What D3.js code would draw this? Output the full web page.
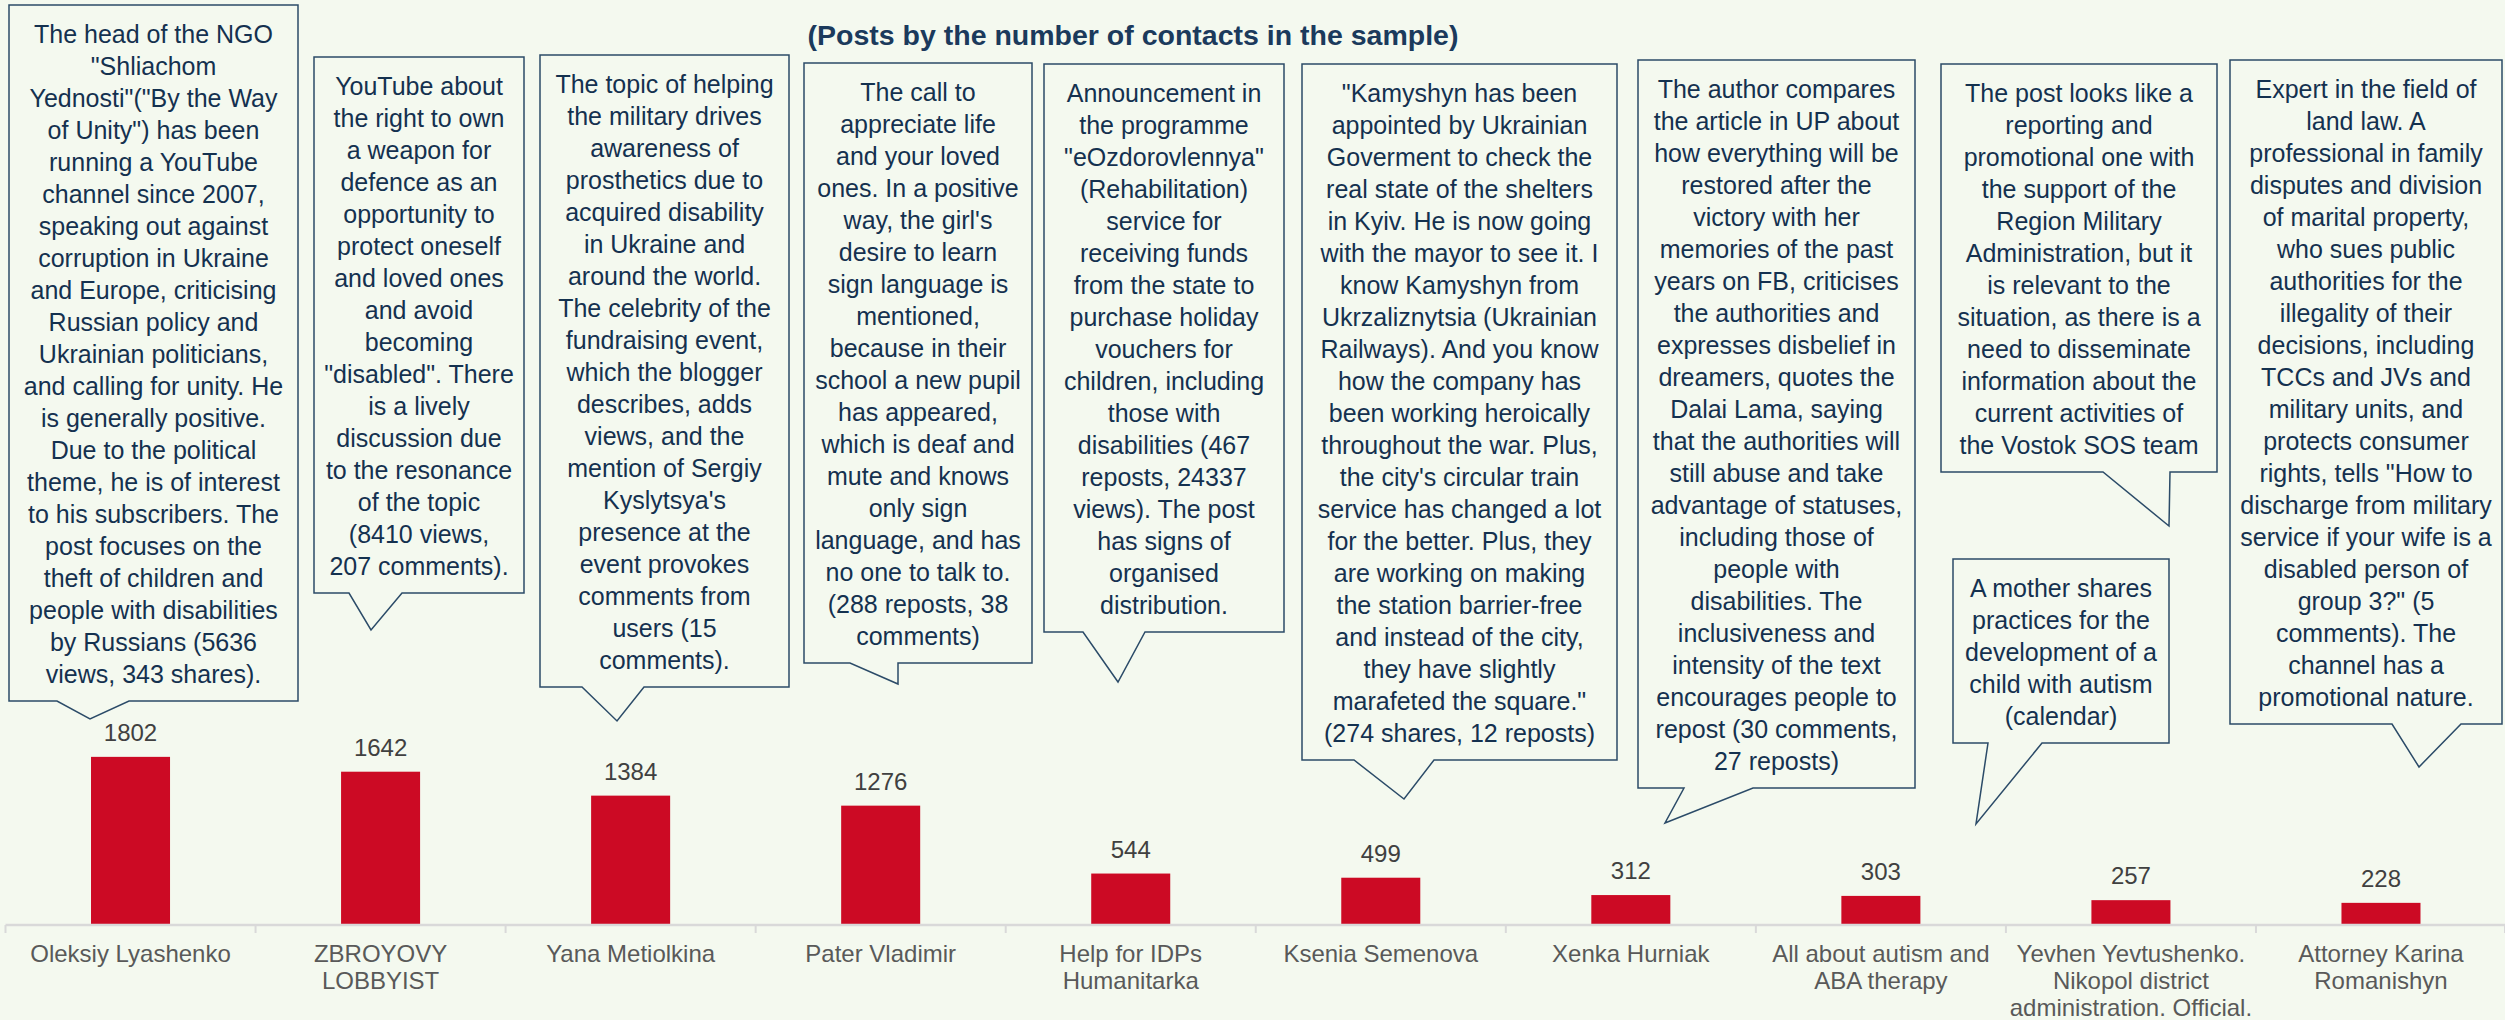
<!DOCTYPE html>
<html>
<head>
<meta charset="utf-8">
<script src="https://cdn.jsdelivr.net/npm/d3@7"></script>
<style>
  html, body { margin: 0; padding: 0; background: #f4f9ef; }
  svg { display: block; }
</style>
</head>
<body>
<div id="chart"></div>
<script>
// categories (x axis), one label line per array item
var categories = [
    ["Oleksiy Lyashenko"],
    ["ZBROYOVY", "LOBBYIST"],
    ["Yana Metiolkina"],
    ["Pater Vladimir"],
    ["Help for IDPs", "Humanitarka"],
    ["Ksenia Semenova"],
    ["Xenka Hurniak"],
    ["All about autism and", "ABA therapy"],
    ["Yevhen Yevtushenko.", "Nikopol district", "administration. Official."],
    ["Attorney Karina", "Romanishyn"]
];
var contacts = [1802, 1642, 1384, 1276, 544, 499, 312, 303, 257, 228];

var title = "(Posts by the number of contacts in the sample)";

// callout texts, already broken into the lines of the original
var notes = [
    ["The head of the NGO", "\"Shliachom", "Yednosti\"(\"By the Way", "of Unity\") has been", "running a YouTube", "channel since 2007,", "speaking out against", "corruption in Ukraine", "and Europe, criticising", "Russian policy and", "Ukrainian politicians,", "and calling for unity. He", "is generally positive.", "Due to the political", "theme, he is of interest", "to his subscribers. The", "post focuses on the", "theft of children and", "people with disabilities", "by Russians (5636", "views, 343 shares)."],
    ["YouTube about", "the right to own", "a weapon for", "defence as an", "opportunity to", "protect oneself", "and loved ones", "and avoid", "becoming", "\"disabled\". There", "is a lively", "discussion due", "to the resonance", "of the topic", "(8410 views,", "207 comments)."],
    ["The topic of helping", "the military drives", "awareness of", "prosthetics due to", "acquired disability", "in Ukraine and", "around the world.", "The celebrity of the", "fundraising event,", "which the blogger", "describes, adds", "views, and the", "mention of Sergiy", "Kyslytsya's", "presence at the", "event provokes", "comments from", "users (15", "comments)."],
    ["The call to", "appreciate life", "and your loved", "ones. In a positive", "way, the girl's", "desire to learn", "sign language is", "mentioned,", "because in their", "school a new pupil", "has appeared,", "which is deaf and", "mute and knows", "only sign", "language, and has", "no one to talk to.", "(288 reposts, 38", "comments)"],
    ["Announcement in", "the programme", "\"eOzdorovlennya\"", "(Rehabilitation)", "service for", "receiving funds", "from the state to", "purchase holiday", "vouchers for", "children, including", "those with", "disabilities (467", "reposts, 24337", "views). The post", "has signs of", "organised", "distribution."],
    ["\"Kamyshyn has been", "appointed by Ukrainian", "Goverment to check the", "real state of the shelters", "in Kyiv. He is now going", "with the mayor to see it. I", "know Kamyshyn from", "Ukrzaliznytsia (Ukrainian", "Railways). And you know", "how the company has", "been working heroically", "throughout the war. Plus,", "the city's circular train", "service has changed a lot", "for the better. Plus, they", "are working on making", "the station barrier-free", "and instead of the city,", "they have slightly", "marafeted the square.\"", "(274 shares, 12 reposts)"],
    ["The author compares", "the article in UP about", "how everything will be", "restored after the", "victory with her", "memories of the past", "years on FB, criticises", "the authorities and", "expresses disbelief in", "dreamers, quotes the", "Dalai Lama, saying", "that the authorities will", "still abuse and take", "advantage of statuses,", "including those of", "people with", "disabilities. The", "inclusiveness and", "intensity of the text", "encourages people to", "repost (30 comments,", "27 reposts)"],
    ["The post looks like a", "reporting and", "promotional one with", "the support of the", "Region Military", "Administration, but it", "is relevant to the", "situation, as there is a", "need to disseminate", "information about the", "current activities of", "the Vostok SOS team"],
    ["A mother shares", "practices for the", "development of a", "child with autism", "(calendar)"],
    ["Expert in the field of", "land law. A", "professional in family", "disputes and division", "of marital property,", "who sues public", "authorities for the", "illegality of their", "decisions, including", "TCCs and JVs and", "military units, and", "protects consumer", "rights, tells \"How to", "discharge from military", "service if your wife is a", "disabled person of", "group 3?\" (5", "comments). The", "channel has a", "promotional nature."]
];

// where each callout sits: box left, top, width, pointer base (b0, b1) and tip
var noteBoxes = [
    {x: 9,    y: 5,   w: 289, b0: 57,   b1: 129,  tx: 90,   ty: 719},
    {x: 314,  y: 57,  w: 210, b0: 349,  b1: 402,  tx: 371,  ty: 630},
    {x: 540,  y: 55,  w: 249, b0: 582,  b1: 644,  tx: 617,  ty: 721},
    {x: 804,  y: 63,  w: 228, b0: 850,  b1: 898,  tx: 898,  ty: 684},
    {x: 1044, y: 64,  w: 240, b0: 1083, b1: 1145, tx: 1118, ty: 682},
    {x: 1302, y: 64,  w: 315, b0: 1354, b1: 1434, tx: 1404, ty: 799},
    {x: 1638, y: 60,  w: 277, b0: 1684, b1: 1753, tx: 1665, ty: 823},
    {x: 1941, y: 64,  w: 276, b0: 2103, b1: 2170, tx: 2169, ty: 526},
    {x: 1953, y: 559, w: 216, b0: 1988, b1: 2042, tx: 1976, ty: 824},
    {x: 2230, y: 60,  w: 272, b0: 2392, b1: 2461, tx: 2419, ty: 767}
];

var width = 2505;
var height = 1020;
var baseY = 924;
var lineH = 32;

var svg = d3.select("#chart")
    .append("svg")
    .attr("width", width)
    .attr("height", height);

svg.append("rect")
    .attr("width", width)
    .attr("height", height)
    .attr("fill", "#f4f9ef");

var names = categories.map(c => c.join(" "));

var x = d3.scaleBand()
    .domain(names)
    .range([5.5, 2506])
    .padding(0);

var y = d3.scaleLinear()
    .domain([0, 2000])
    .range([baseY, baseY - 185.5]);

var barW = x.step() * 0.316;

// bars
svg.append("g")
    .selectAll("rect")
    .data(contacts)
    .enter().append("rect")
    .attr("x", (d, i) => x(names[i]) + x.bandwidth() / 2 - barW / 2)
    .attr("y", d => y(d))
    .attr("width", barW)
    .attr("height", d => y(0) - y(d))
    .attr("fill", "#cc0a24");

// value labels
svg.append("g")
    .selectAll("text")
    .data(contacts)
    .enter().append("text")
    .attr("x", (d, i) => x(names[i]) + x.bandwidth() / 2)
    .attr("y", d => y(d) - 16)
    .attr("text-anchor", "middle")
    .attr("font-family", "'Liberation Sans', Arial, sans-serif")
    .attr("font-size", 24)
    .attr("fill", "#404040")
    .text(d => d);

// category axis: line, ticks at band edges, labels
var axis = svg.append("g");
axis.append("line")
    .attr("x1", x.range()[0])
    .attr("x2", x.range()[1])
    .attr("y1", baseY + 1)
    .attr("y2", baseY + 1)
    .attr("stroke", "#d9d9d9")
    .attr("stroke-width", 2.5);

var edges = names.map(n => x(n)).concat([x.range()[1] - 1]);
axis.selectAll("line.tick")
    .data(edges)
    .enter().append("line")
    .attr("class", "tick")
    .attr("x1", d => d)
    .attr("x2", d => d)
    .attr("y1", baseY + 1)
    .attr("y2", baseY + 9)
    .attr("stroke", "#d9d9d9")
    .attr("stroke-width", 2);

var labels = axis.selectAll("text")
    .data(categories)
    .enter().append("text")
    .attr("text-anchor", "middle")
    .attr("font-family", "'Liberation Sans', Arial, sans-serif")
    .attr("font-size", 24)
    .attr("fill", "#595959");

labels.selectAll("tspan")
    .data((d, i) => d.map(t => ({t: t, i: i})))
    .enter().append("tspan")
    .attr("x", d => x(names[d.i]) + x.bandwidth() / 2)
    .attr("y", (d, j) => 962 + j * 27)
    .text(d => d.t);

// title
svg.append("text")
    .attr("x", 1133)
    .attr("y", 45)
    .attr("text-anchor", "middle")
    .attr("font-family", "'Liberation Sans', Arial, sans-serif")
    .attr("font-weight", "bold")
    .attr("font-size", 28.5)
    .attr("fill", "#1b3a5c")
    .text(title);

// callouts
var callouts = svg.append("g")
    .selectAll("g")
    .data(noteBoxes)
    .enter().append("g");

callouts.append("path")
    .attr("d", (b, i) => {
        var bottom = b.y + lineH * notes[i].length + 24;
        return "M" + b.x + "," + b.y + "H" + (b.x + b.w) + "V" + bottom +
            "H" + b.b1 + "L" + b.tx + "," + b.ty + "L" + b.b0 + "," + bottom +
            "H" + b.x + "Z";
    })
    .attr("fill", "#f4f9ef")
    .attr("stroke", "#2b4b68")
    .attr("stroke-width", 1.5);

callouts.append("text")
    .attr("text-anchor", "middle")
    .attr("font-family", "'Liberation Sans', Arial, sans-serif")
    .attr("font-size", 25)
    .attr("fill", "#14314f")
    .selectAll("tspan")
    .data((b, i) => notes[i].map(t => ({t: t, b: b})))
    .enter().append("tspan")
    .attr("x", d => d.b.x + d.b.w / 2)
    .attr("y", (d, j) => d.b.y + 38 + j * lineH)
    .text(d => d.t);
</script>
</body>
</html>
